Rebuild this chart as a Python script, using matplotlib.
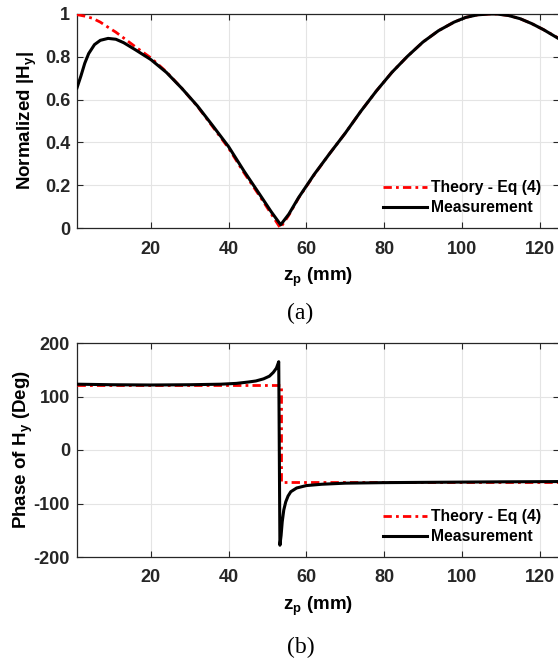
import matplotlib
matplotlib.use("Agg")
import matplotlib.pyplot as plt

plt.rcParams.update({
    "font.family": "Liberation Sans",
    "font.weight": "bold",
    "mathtext.fontset": "custom",
    "mathtext.rm": "Liberation Sans:bold",
    "mathtext.it": "Liberation Sans:bold",
    "mathtext.bf": "Liberation Sans:bold",
    "axes.unicode_minus": False,
})

# ---- normalized |Hy| along the probe path ----
z_amp_theory = [1, 3, 5, 7, 9, 11, 13, 16, 20, 24, 28, 32, 36, 40, 44, 48, 51,
                53.3, 55.5, 58, 62, 66, 70, 74, 78, 82, 86, 90, 94, 98, 101,
                104, 107, 109, 112, 115, 118, 121, 125]
amp_theory = [0.997, 0.99, 0.98, 0.962, 0.938, 0.915, 0.888, 0.847, 0.795,
              0.73, 0.652, 0.568, 0.471, 0.373, 0.257, 0.149, 0.065,
              0.0, 0.06, 0.14, 0.248, 0.348, 0.443, 0.545, 0.64, 0.727,
              0.802, 0.869, 0.922, 0.962, 0.984, 0.996, 1.0, 1.0, 0.993,
              0.978, 0.955, 0.927, 0.886]

z_amp_meas = [1, 2, 3, 4, 5.5, 7, 9, 11, 13, 16, 20, 24, 28, 32, 36, 40, 44,
              48, 51, 53.4, 55.5, 58, 62, 66, 70, 74, 78, 82, 86, 90, 94, 98,
              101, 104, 107, 109, 112, 115, 118, 121, 125]
amp_meas = [0.655, 0.71, 0.77, 0.815, 0.857, 0.877, 0.886, 0.882, 0.866,
            0.833, 0.787, 0.727, 0.652, 0.57, 0.476, 0.38, 0.265, 0.157,
            0.075, 0.015, 0.065, 0.142, 0.25, 0.348, 0.443, 0.545, 0.64,
            0.727, 0.802, 0.869, 0.922, 0.962, 0.984, 0.996, 1.0, 1.0,
            0.993, 0.978, 0.955, 0.927, 0.884]

# ---- phase of Hy (degrees) ----
z_ph_theory = [1, 53.5, 53.5, 125]
ph_theory = [121, 121, -59, -59]

z_ph_meas = [1, 10, 20, 30, 38, 42, 45, 47, 49, 50.5, 51.5, 52.3, 52.9,
             53.2, 53.5, 53.8, 54.2, 54.7, 55.3, 56, 57.5, 60, 64, 70, 80,
             90, 100, 110, 125]
ph_meas = [123, 122, 121.5, 122, 123, 124.5, 127, 129, 133, 138, 145, 153,
           165, -178, -160, -134, -112, -97, -86, -78, -71, -66.5, -64, -62,
           -61, -60.5, -60, -59.5, -59]

amp_ticks = [0, 0.2, 0.4, 0.6, 0.8, 1]
amp_tick_labels = ["0", "0.2", "0.4", "0.6", "0.8", "1"]
ph_ticks = [-200, -100, 0, 100, 200]
x_ticks = [20, 40, 60, 80, 100, 120]

legend_labels = ["Theory - Eq (4)", "Measurement"]

W, H = 558, 664
fig = plt.figure(figsize=(W / 100, H / 100), dpi=100)
ax1 = fig.add_axes([77 / W, (H - 228) / H, 482 / W, 214 / H])
ax2 = fig.add_axes([77 / W, (H - 557) / H, 482 / W, 214 / H])

red_dashdot = (0, (3, 1.5, 1, 1.5))


def style(ax):
    ax.grid(True, color="#e4e4e4", lw=0.8)
    ax.set_axisbelow(True)
    ax.tick_params(direction="in", length=4, width=0.8, top=True, right=True,
                   labelsize=13, colors="#262626")
    ax.tick_params(axis="x", pad=9)
    ax.tick_params(axis="y", pad=5)
    for s in ax.spines.values():
        s.set_color("#262626")
        s.set_linewidth(0.9)
    ax.set_xlim(1, 125)
    ax.set_xticks(x_ticks)


for ax in (ax1, ax2):
    style(ax)

ax1.plot(z_amp_theory, amp_theory, color="#ff0000", lw=2.0, ls=red_dashdot,
         label=legend_labels[0], zorder=3)
ax1.plot(z_amp_meas, amp_meas, color="black", lw=2.2, label=legend_labels[1],
         zorder=4)
ax1.set_ylim(0, 1)
ax1.set_yticks(amp_ticks)
ax1.set_yticklabels(amp_tick_labels)
ax1.set_ylabel("Normalized |H$_\\mathrm{y}$|", fontsize=13.5, fontweight="bold")
ax1.yaxis.set_label_coords(-0.078, 0.5)
ax1.set_xlabel("z$_\\mathrm{p}$ (mm)", fontsize=13.5, fontweight="bold",
               labelpad=6)

ax2.plot(z_ph_theory, ph_theory, color="#ff0000", lw=2.0, ls=red_dashdot,
         label=legend_labels[0], zorder=3)
ax2.plot(z_ph_meas, ph_meas, color="black", lw=2.2, label=legend_labels[1],
         zorder=4)
ax2.set_ylim(-200, 200)
ax2.set_yticks(ph_ticks)
ax2.set_ylabel("Phase of H$_\\mathrm{y}$ (Deg)", fontsize=13.5,
               fontweight="bold")
ax2.yaxis.set_label_coords(-0.088, 0.5)
ax2.set_xlabel("z$_\\mathrm{p}$ (mm)", fontsize=13.5, fontweight="bold",
               labelpad=6)

for ax, y0 in ((ax1, 0.06), (ax2, 0.06)):
    ax.legend(loc="lower left", bbox_to_anchor=(0.634, y0), frameon=False,
              prop={"weight": "bold", "size": 11.3}, handlelength=2.8,
              handletextpad=0.3, borderpad=0, borderaxespad=0,
              labelspacing=0.3)

fig.text(300 / W, 1 - 313 / H, "(a)", ha="center", va="center",
         family="Liberation Serif", fontweight="normal", fontsize=17)
fig.text(301 / W, 1 - 647 / H, "(b)", ha="center", va="center",
         family="Liberation Serif", fontweight="normal", fontsize=17)

fig.savefig("out.png", dpi=100)
